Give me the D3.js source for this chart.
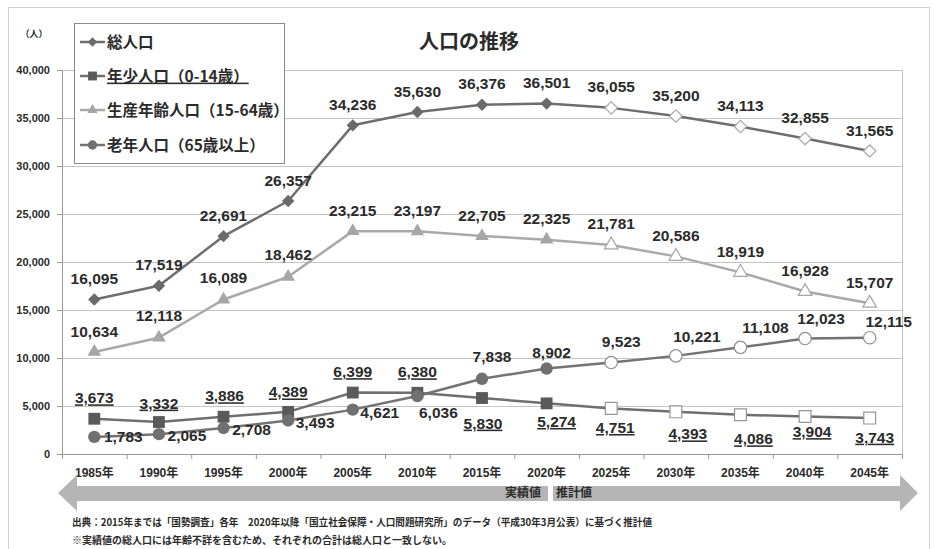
<!DOCTYPE html>
<html><head><meta charset="utf-8">
<script src="https://cdn.jsdelivr.net/npm/d3@7"></script>
<style>body{margin:0;background:#fff}svg{display:block}</style>
</head><body><svg id="c" width="935" height="549"></svg>
<script>
// ---------- data ----------
const years = ["1985年","1990年","1995年","2000年","2005年","2010年","2015年","2020年","2025年","2030年","2035年","2040年","2045年"];
const totalPop   = [16095,17519,22691,26357,34236,35630,36376,36501,36055,35200,34113,32855,31565];
const youthPop   = [3673,3332,3886,4389,6399,6380,5830,5274,4751,4393,4086,3904,3743];
const workingPop = [10634,12118,16089,18462,23215,23197,22705,22325,21781,20586,18919,16928,15707];
const elderlyPop = [1783,2065,2708,3493,4621,6036,7838,8902,9523,10221,11108,12023,12115];
const yTicks = [0,5000,10000,15000,20000,25000,30000,35000,40000];
const observedCount = 8; // 1985–2020 observed, later projected
const seriesNames = ["総人口","年少人口（0-14歳）","生産年齢人口（15-64歳）","老年人口（65歳以上）"];
const titleText = "人口の推移";
const unitText = "（人）";
const actualText = "実績値";
const projText = "推計値";
const note1 = "出典：2015年までは「国勢調査」各年　2020年以降「国立社会保障・人口問題研究所」のデータ（平成30年3月公表）に基づく推計値";
const note2 = "※実績値の総人口には年齢不詳を含むため、それぞれの合計は総人口と一致しない。";

// ---------- label layout (pixel offsets from marker) ----------
const totalLabelDx   = [0,0,0,0,0,0,0,0,0,0,0,0,0];
const totalLabelDy   = [-21,-21,-21,-21,-21,-21,-21,-21,-21,-21,-21,-21,-21];
const workLabelDx    = [0,0,0,0,0,0,0,0,0,0,0,0,0];
const workLabelDy    = [-20,-22,-22,-22,-21,-21,-21,-21,-21,-21,-21,-21,-21];
const youthLabelDx   = [0,0,1,0,0,0,1,10,4,12,13,7,5];
const youthLabelDy   = [-21,-19,-21,-20,-21,-21,25,18,19,22,24,15,19];
const elderLabelDx   = [29,28,28,27,27,21,10,5,10,21,25,16,19];
const elderLabelDy   = [0,1,1,1.5,2.5,16,-22,-16,-21,-19,-20,-20,-16];

// ---------- setup ----------
const svg = d3.select("#c");
const plot = {left:62, right:902, top:70, bottom:454};
const x = d3.scaleBand().domain(years).range([plot.left, plot.right]).padding(0);
const cx = d => x(d) + x.bandwidth()/2;
const y = d3.scaleLinear().domain([0,40000]).range([plot.bottom, plot.top]);
const LATIN = "'Liberation Sans', Arial, sans-serif";
const NARROW = "'Liberation Sans Narrow','Liberation Sans', 'Noto Sans CJK JP', sans-serif";
const CJK = "'Noto Sans CJK JP', sans-serif";
const textCol = "#2b2b2b";

// outer frame
svg.append("rect").attr("x",8.5).attr("y",7.5).attr("width",921).attr("height",560)
  .attr("fill","none").attr("stroke","#d0d0d0");

// gridlines
svg.append("g").attr("transform",`translate(${plot.left},0)`)
  .call(d3.axisLeft(y).tickValues(yTicks).tickSize(-(plot.right-plot.left)).tickFormat(""))
  .call(g=>g.select(".domain").remove())
  .call(g=>g.selectAll("line").attr("stroke","#c4c4c4"));

// right border of plot area
svg.append("line").attr("x1",plot.right+0.5).attr("x2",plot.right+0.5).attr("y1",plot.top).attr("y2",plot.bottom)
  .attr("stroke","#c4c4c4");

// y axis
svg.append("g").attr("transform",`translate(${plot.left},0)`)
  .call(d3.axisLeft(y).tickValues(yTicks).tickSize(5).tickPadding(7).tickFormat(d3.format(",")))
  .call(g=>g.select(".domain").attr("stroke","#999"))
  .call(g=>g.selectAll("line").attr("stroke","#999"))
  .call(g=>g.selectAll("text").attr("font-family",NARROW).attr("font-weight","bold").attr("font-size",11).attr("fill",textCol));

// x axis
const xAxisG = svg.append("g").attr("transform",`translate(0,${plot.bottom})`)
  .call(d3.axisBottom(x).tickSize(0).tickPadding(14))
  .call(g=>g.select(".domain").attr("stroke","#999"))
  .call(g=>g.selectAll("text").attr("font-family",NARROW).attr("font-weight","bold").attr("font-size",12).attr("fill",textCol));
// boundary tick marks
xAxisG.selectAll(".btick").data(years.concat(["__end"])).enter().append("line")
  .attr("x1",(d,i)=> (i<years.length? x(d): plot.right)+0.5)
  .attr("x2",(d,i)=> (i<years.length? x(d): plot.right)+0.5)
  .attr("y1",0).attr("y2",5).attr("stroke","#999");

// ---------- series ----------
const series = [
  {key:"total",   vals:totalPop,   line:"#6e6e6e", mark:"#6a6a6a", hollow:"#a8a8a8", shape:"diamond", w:2.5, ldx:totalLabelDx, ldy:totalLabelDy},
  {key:"youth",   vals:youthPop,   line:"#6f6f6f", mark:"#5a5a5a", hollow:"#969696", shape:"square",  w:2.5, ldx:youthLabelDx, ldy:youthLabelDy, underline:true},
  {key:"working", vals:workingPop, line:"#a9a9a9", mark:"#a6a6a6", hollow:"#a6a6a6", shape:"triangle",w:2.5, ldx:workLabelDx,  ldy:workLabelDy},
  {key:"elderly", vals:elderlyPop, line:"#737373", mark:"#707070", hollow:"#8f8f8f", shape:"circle",  w:2.5, ldx:elderLabelDx, ldy:elderLabelDy}
];

function shapePath(shape, scale){
  const s = scale||1;
  if(shape==="diamond"){ const r=6.2*s; return `M0,${-r}L${r},0L0,${r}L${-r},0Z`; }
  if(shape==="square") return d3.symbol(d3.symbolSquare, 140*s*s)();
  if(shape==="triangle") return d3.symbol(d3.symbolTriangle, 80*s*s)();
  return d3.symbol(d3.symbolCircle, 120*s*s)();
}

const lineGen = (vals)=> d3.line().x((d,i)=>cx(years[i])).y(d=>y(d))(vals);

series.forEach(s=>{
  svg.append("path").attr("d",lineGen(s.vals)).attr("fill","none")
    .attr("stroke",s.line).attr("stroke-width",s.w).attr("stroke-linejoin","round");
});
series.forEach(s=>{
  svg.append("g").selectAll("path").data(s.vals).enter().append("path")
    .attr("d",shapePath(s.shape))
    .attr("transform",(d,i)=>`translate(${cx(years[i])},${y(d)})`)
    .attr("fill",(d,i)=> i<observedCount ? s.mark : "#ffffff")
    .attr("stroke",(d,i)=> i<observedCount ? s.mark : s.hollow)
    .attr("stroke-width",(d,i)=> i<observedCount ? 0 : 1.2);
});
// data labels
series.forEach(s=>{
  svg.append("g").selectAll("text").data(s.vals).enter().append("text")
    .attr("x",(d,i)=>cx(years[i])+s.ldx[i])
    .attr("y",(d,i)=>y(d)+s.ldy[i])
    .attr("dy","0.36em")
    .attr("text-anchor","middle")
    .attr("font-family",LATIN).attr("font-weight","bold").attr("font-size",15.5)
    .attr("fill",textCol)
    .style("text-decoration", s.underline ? "underline" : "none")
    .text(d=>d3.format(",")(d));
});

// ---------- legend ----------
const lg = svg.append("g");
lg.append("rect").attr("x",74.5).attr("y",23.5).attr("width",210).attr("height",140)
  .attr("fill","#fff").attr("stroke","#8a8a8a");
const legendRowY = [42,76,110,145];
series.forEach((s,i)=>{
  const yy = legendRowY[i];
  lg.append("line").attr("x1",80).attr("x2",105).attr("y1",yy).attr("y2",yy)
    .attr("stroke",s.line).attr("stroke-width",2.5);
  lg.append("path").attr("d",shapePath(s.shape,0.75)).attr("transform",`translate(92.5,${yy})`).attr("fill",s.mark);
  lg.append("text").attr("x",107).attr("y",yy).attr("dy","0.36em")
    .attr("font-family",CJK).attr("font-weight","bold").attr("font-size",15.5).attr("fill",textCol)
    .style("text-decoration", s.underline ? "underline" : "none")
    .text(seriesNames[i]);
});

// title & unit
svg.append("text").attr("x",469).attr("y",42).attr("dy","0.36em").attr("text-anchor","middle")
  .attr("font-family",CJK).attr("font-weight","bold").attr("font-size",20).attr("fill",textCol).text(titleText);
svg.append("text").attr("x",34).attr("y",34).attr("dy","0.36em").attr("text-anchor","middle")
  .attr("font-family",CJK).attr("font-weight","bold").attr("font-size",9).attr("fill",textCol).text(unitText);

// ---------- timeline arrow ----------
const arrowCol = "#b5b5b5";
const aTop=486, aBot=501, hTop=475, hBot=511, aMid=493;
svg.append("polygon").attr("fill",arrowCol)
  .attr("points",[[58,aMid],[77,hTop],[77,aTop],[548,aTop],[548,aBot],[77,aBot],[77,hBot]].join(" "));
svg.append("polygon").attr("fill",arrowCol)
  .attr("points",[[553,aTop],[900,aTop],[900,hTop],[918,aMid],[900,hBot],[900,aBot],[553,aBot]].join(" "));
svg.append("text").attr("x",541).attr("y",aMid).attr("dy","0.36em").attr("text-anchor","end")
  .attr("font-family",CJK).attr("font-weight","bold").attr("font-size",12).attr("fill",textCol).text(actualText);
svg.append("text").attr("x",556).attr("y",aMid).attr("dy","0.36em")
  .attr("font-family",CJK).attr("font-weight","bold").attr("font-size",12).attr("fill",textCol).text(projText);

// ---------- notes ----------
svg.append("text").attr("x",72).attr("y",522).attr("dy","0.36em")
  .attr("font-family",CJK).attr("font-weight","bold").attr("font-size",10).attr("fill",textCol)
  .attr("textLength",580).attr("lengthAdjust","spacingAndGlyphs").text(note1);
svg.append("text").attr("x",72).attr("y",540).attr("dy","0.36em")
  .attr("font-family",CJK).attr("font-weight","bold").attr("font-size",10).attr("fill",textCol).text(note2);
</script>
</body></html>
